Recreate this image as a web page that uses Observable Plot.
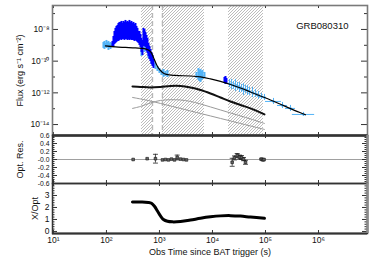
<!DOCTYPE html>
<html><head><meta charset="utf-8">
<script src="https://cdn.jsdelivr.net/npm/d3@7"></script>
<script src="https://cdn.jsdelivr.net/npm/@observablehq/plot@0.6"></script>
<style>
body{margin:0;background:#fff;}
#wrap{position:relative;width:374px;height:262px;overflow:hidden;background:#fff;}
#wrap > svg{position:absolute;left:0;top:0;}
</style></head><body><div id="wrap"></div>
<script>
// ---------- DATA ----------
// dark blue (BAT/XRT WT) flare band: time (s), flux upper / lower (erg s^-1 cm^-2)
const wtTime = [129.8,135.6,141.6,147.8,154.4,161.3,168.4,175.9,183.7,191.9,200.4,209.3,218.6,228.3,238.5,249.0,260.1,271.6,283.7,296.3,309.5,323.2,337.6,352.6,368.3,384.6,401.7,419.6,438.2,457.7,478.0,499.2,521.3,544.5,568.6,593.9,620.2,647.8,676.5,706.5,737.9,770.6,16840,17590,18370];
const wtHi = [1.75e-9,3.61e-9,7.48e-9,1.16e-8,1.55e-8,1.79e-8,2.39e-8,2.77e-8,2.77e-8,3.20e-8,2.39e-8,3.20e-8,2.77e-8,3.70e-8,2.77e-8,3.20e-8,2.77e-8,3.70e-8,2.77e-8,3.20e-8,2.39e-8,2.77e-8,2.07e-8,2.39e-8,1.55e-8,1.16e-8,7.48e-9,7.48e-9,4.84e-9,2.70e-9,2.02e-9,1.16e-8,1.00e-8,6.47e-9,4.18e-9,2.70e-9,1.31e-9,8.46e-10,5.47e-10,3.54e-10,2.29e-10,1.28e-10,9.37e-12,1.08e-11,8.11e-12];
const wtLo = [7.32e-10,8.46e-10,1.13e-9,1.31e-9,1.51e-9,1.75e-9,1.75e-9,2.02e-9,2.34e-9,2.02e-9,2.34e-9,2.34e-9,2.02e-9,2.34e-9,2.34e-9,2.02e-9,2.34e-9,2.02e-9,2.34e-9,2.02e-9,2.02e-9,2.02e-9,1.75e-9,2.02e-9,1.75e-9,1.51e-9,1.31e-9,9.79e-10,7.32e-10,3.54e-10,2.29e-10,8.46e-10,8.46e-10,7.32e-10,4.09e-10,3.06e-10,1.98e-10,1.28e-10,9.57e-11,6.19e-11,4.63e-11,3.46e-11,3.92e-12,3.39e-12,3.92e-12];

// light blue (XRT) band points: time, flux upper / lower
const pcTime = [87.8,91.7,95.7,100,104.4,109.1,113.9,119.0,124.3, 457.7,521.3,620.2,706.5,770.6,840.4,917.2,1000,1091,1190,1298,1416, 4991,5443,5685,5937,6200,6477,7064];
const pcHi = [1.51e-9,1.75e-9,1.31e-9,2.02e-9,1.51e-9,1.75e-9,1.31e-9,1.51e-9,1.31e-9, 6.33e-10,1.13e-9,3.54e-10,1.71e-10,1.28e-10,7.16e-11,4.63e-11,3.46e-11,2.59e-11,2.99e-11,2.24e-11,2.59e-11, 1.94e-11,3.46e-11,2.59e-11,2.99e-11,2.24e-11,2.59e-11,1.94e-11];
const pcLo = [6.33e-10,5.47e-10,7.32e-10,6.33e-10,7.32e-10,4.73e-10,6.33e-10,5.47e-10,7.32e-10, 1.98e-10,3.54e-10,1.48e-10,6.19e-11,4.63e-11,2.99e-11,2.24e-11,1.67e-11,1.25e-11,9.37e-12,1.08e-11,9.37e-12, 8.11e-12,6.05e-12,5.24e-12,4.53e-12,6.05e-12,7.00e-12,8.11e-12];

// late light blue points with errors (errors in dex)
const lateTime = [20930,22830,24900,27160,29630,32320,35260,38450,41940,45750,49910,56840,64760,73770,84040,95740,141600,209300,296300,521200];
const lateFlux = [3.92e-12,3.39e-12,2.93e-12,2.93e-12,2.54e-12,2.19e-12,1.90e-12,1.64e-12,1.64e-12,1.42e-12,1.23e-12,1.06e-12,9.17e-13,6.86e-13,5.93e-13,5.13e-13,2.87e-13,1.60e-13,1.04e-13,4.34e-14];
const lateFluxErr = [0.25,0.32,0.25,0.38,0.25,0.32,0.25,0.38,0.25,0.32,0.25,0.32,0.25,0.25,0.19,0.19,0.19,0.19,0.19,0.13];
const lateTimeErr = [0.028,0.028,0.028,0.028,0.028,0.028,0.028,0.028,0.028,0.028,0.028,0.038,0.038,0.038,0.038,0.038,0.15,0.094,0.094,0.21];

// X-ray model (black, upper)
const xModelTime = [95.7,147.8,228.3,352.6,544.5,676.5,770.6,877.9,1000,1139,1356,2004,3845,5937,9168,14160,21860,33760,52120,80450,124200,191900,296300,457500,568400];
const xModelFlux = [9.10e-10,7.87e-10,7.31e-10,6.81e-10,5.89e-10,4.09e-10,1.71e-10,6.19e-11,2.99e-11,1.94e-11,1.45e-11,1.25e-11,1.16e-11,1.01e-11,7.53e-12,5.24e-12,3.39e-12,2.04e-12,1.14e-12,6.37e-13,3.56e-13,1.91e-13,1.01e-13,5.55e-14,4.15e-14];

// optical model (black, lower) and its two components (gray)
const optTime = [309.5,438.2,676.5,1044,1612,2490,3845,5937,9168,14160,21860,33760,52120,95740];
const optFlux = [2.54e-12,2.36e-12,2.19e-12,2.36e-12,2.72e-12,2.72e-12,2.19e-12,1.52e-12,9.17e-13,5.13e-13,2.87e-13,1.72e-13,1.04e-13,4.34e-14];
const compAFlux = [1.04e-13,1.39e-13,2.31e-13,3.32e-13,3.67e-13,3.56e-13,2.87e-13,2.00e-13,1.29e-13,8.34e-14,5.39e-14,3.49e-14,2.26e-14,1.17e-14];
const compBFlux = [5.13e-13,4.12e-13,3.08e-13,2.14e-13,1.49e-13,1.04e-13,7.21e-14,5.01e-14,3.49e-14,2.43e-14,1.69e-14,1.17e-14,8.16e-15,4.91e-15];

// hatched intervals and dashed lines (s)
const hatchStart = [457.7, 1139, 20040];
const hatchEnd = [737.9, 7064, 91670];
const dashTime = [737.9, 1139];

// optical residuals
const resTime = [319,586,840,1139,1298,1478,1684,1919,2158,2490,2837,3232,23530,26010,29240,32310,35250,38450,41950,84040,89690,93690];
const resValue = [0.00,0.02,0.02,-0.01,0.00,-0.01,0.01,-0.01,0.05,0.01,0.00,-0.01,-0.07,0.04,0.10,0.06,0.05,0.01,-0.07,0.01,-0.01,0.00];
const resError = [0.01,0.01,0.11,0.01,0.01,0.01,0.01,0.01,0.06,0.01,0.01,0.01,0.10,0.05,0.05,0.05,0.05,0.04,0.05,0.02,0.02,0.01];

// X/Opt ratio
const ratioTime = [309.5,438.2,620.2,706.5,804.8,917.2,1044,1190,1416,1759,2490,3845,5937,9168,14160,21860,33760,52120,95740];
const ratioValue = [2.45,2.45,2.42,2.35,2.10,1.70,1.30,1.00,0.85,0.80,0.83,0.95,1.10,1.22,1.30,1.32,1.28,1.20,1.10];

// ticks and labels
const xTicks = [10,100,1e3,1e4,1e5,1e6];
const xTickLabels = ["10¹","10²","10³","10⁴","10⁵","10⁶"];
const fluxMajor = [1e-14,1e-12,1e-10,1e-8];
const fluxLabels = ["10⁻¹⁴","10⁻¹²","10⁻¹⁰","10⁻⁸"];
const fluxMinor = [1e-13,1e-11,1e-9,1e-7];
const resMajor = [0.6,0.4,0.2,0,-0.2,-0.4,-0.6];
const resLabels = ["0.6","0.4","0.2","-0.0","-0.2","-0.4","-0.6"];
const resMinor = [-0.55,-0.5,-0.45,-0.35,-0.3,-0.25,-0.15,-0.1,-0.05,0.05,0.1,0.15,0.25,0.3,0.35,0.45,0.5,0.55];
const ratioMajor = [0,1,2,3];
const ratioLabels = ["0","1","2","3"];
const ratioMinor = [0.2,0.4,0.6,0.8,1.2,1.4,1.6,1.8,2.2,2.4,2.6,2.8,3.2,3.4,3.6,3.8];

const grbName = "GRB080310";
const fluxTitle = "Flux (erg s⁻¹ cm⁻²)";
const resTitle = "Opt. Res.";
const ratioTitle = "X/Opt";
const timeTitle = "Obs Time since BAT trigger (s)";

// ---------- BUILD ----------
const W = 374, H = 262, ML = 52, MR = 7;
const PW = W - ML - MR;
const xDomain = [9.6, 8.4e6];
const fluxDomain = [2.04e-15, 3.24e-7];
const resDomain = [-0.6, 0.6];
const ratioDomain = [-0.17, 4.0];
const panels = [[5,135],[135,183],[183,233]];
const LIGHT = "#52b3f7", DARK = "#0000ff", FONT = "Liberation Sans, Arial, sans-serif";

const wt = wtTime.map((t,i)=>({t, hi: wtHi[i], lo: wtLo[i]}));
const pc = pcTime.map((t,i)=>({t, hi: pcHi[i], lo: pcLo[i]}));
const late = lateTime.map((t,i)=>({t, f: lateFlux[i], fhi: lateFlux[i]*10**lateFluxErr[i], flo: lateFlux[i]/10**lateFluxErr[i], thi: t*10**lateTimeErr[i], tlo: t/10**lateTimeErr[i]}));
const xModel = xModelTime.map((t,i)=>({t, f: xModelFlux[i]}));
const opt = optTime.map((t,i)=>({t, f: optFlux[i], a: compAFlux[i], b: compBFlux[i]}));
const hatch = hatchStart.map((s,i)=>({t1: s, t2: hatchEnd[i]}));
const res = resTime.map((t,i)=>({t, v: resValue[i], lo: resValue[i]-resError[i], hi: resValue[i]+resError[i], big: resError[i] > 0.015}));
const ratio = ratioTime.map((t,i)=>({t, v: ratioValue[i]}));

const capSymbol = {draw(ctx, size){ const w = Math.sqrt(size); ctx.moveTo(-w,0); ctx.lineTo(w,0); }};

function yTickMarks(vals, len, stroke="#333") {
  return [
    Plot.tickY(vals, {y: d=>d, insetRight: PW - len, stroke, strokeWidth: 1}),
    Plot.tickY(vals, {y: d=>d, insetLeft: PW - len, stroke, strokeWidth: 1})
  ];
}
function xTickMarks(ph, len, stroke="#333") {
  return [
    Plot.tickX(xTicks, {x: d=>d, insetBottom: ph - len, stroke, strokeWidth: 1}),
    Plot.tickX(xTicks, {x: d=>d, insetTop: ph - len, stroke, strokeWidth: 1})
  ];
}
function base(k) {
  return {width: W, height: H, marginLeft: ML, marginRight: MR, marginTop: panels[k][0], marginBottom: H - panels[k][1],
    style: {background: "transparent", overflow: "visible", fontFamily: FONT, fontSize: "8.5px", color: "#111"}};
}
const wrap = document.getElementById("wrap");

// Panel 1 : light curves
const p1 = Plot.plot({
  ...base(0),
  x: {type: "log", domain: xDomain, axis: null},
  y: {type: "log", domain: fluxDomain, axis: null},
  marks: [
    Plot.rect(hatch, {x1: "t1", x2: "t2", fill: "url(#hatch)"}),
    Plot.ruleX(dashTime, {stroke: "#b8b8b8", strokeWidth: 1.4, strokeDasharray: "5,3"}),
    Plot.ruleX(pc, {x: "t", y1: "lo", y2: "hi", stroke: LIGHT, strokeWidth: 2}),
    Plot.ruleX(late, {x: "t", y1: "flo", y2: "fhi", stroke: LIGHT, strokeWidth: 1}),
    Plot.ruleY(late, {y: "f", x1: "tlo", x2: "thi", stroke: LIGHT, strokeWidth: 1}),
    Plot.dot(late, {x: "t", y: "f", r: 1.2, fill: LIGHT}),
    Plot.ruleX(wt, {x: "t", y1: "lo", y2: "hi", stroke: DARK, strokeWidth: 2}),
    Plot.line(opt, {x: "t", y: "a", stroke: "#9a9a9a", strokeWidth: 1, curve: "catmull-rom"}),
    Plot.line(opt, {x: "t", y: "b", stroke: "#9a9a9a", strokeWidth: 1, curve: "catmull-rom"}),
    Plot.line(opt, {x: "t", y: "f", stroke: "#111", strokeWidth: 2, curve: "catmull-rom"}),
    Plot.line(xModel, {x: "t", y: "f", stroke: "#000", strokeWidth: 1.2, curve: "catmull-rom"}),
    ...yTickMarks(fluxMajor, 6),
    ...yTickMarks(fluxMinor, 3),
    ...xTickMarks(130, 3),
    Plot.frame({stroke: "#7a7a7a", strokeWidth: 1.6}),
    Plot.text(fluxMajor, {y: d=>d, text: (d,i)=>fluxLabels[i], frameAnchor: "left", textAnchor: "end", lineAnchor: "middle", dx: -3, fontSize: 8.5}),
    Plot.text([fluxTitle], {frameAnchor: "left", rotate: -90, dx: -32, textAnchor: "middle", lineAnchor: "middle", fontSize: 9}),
    Plot.text([grbName], {frameAnchor: "top-right", dx: -19, dy: 20, textAnchor: "end", lineAnchor: "middle", fontSize: 9.5, ariaLabel: "grb"})
  ]
});
const defs = d3.select(p1).insert("defs", ":first-child");
const pat = defs.append("pattern").attr("id", "hatch").attr("patternUnits", "userSpaceOnUse").attr("width", 3).attr("height", 3);
pat.append("rect").attr("width", 3).attr("height", 3).attr("fill", "#fff");
pat.append("path").attr("d", "M-1,1 l2,-2 M0,3 l3,-3 M2,4 l2,-2").attr("stroke", "#8f8f8f").attr("stroke-width", 0.6);
d3.select(p1).selectAll('g[aria-label="grb"] text').style("letter-spacing", "0.9px");
wrap.appendChild(p1);

// Panel 2 : optical residuals
const p2 = Plot.plot({
  ...base(1),
  x: {type: "log", domain: xDomain, axis: null},
  y: {domain: resDomain, axis: null},
  marks: [
    Plot.ruleY([0], {stroke: "#a0a0a0", strokeWidth: 1}),
    Plot.ruleX(res.filter(d=>d.big), {x: "t", y1: "lo", y2: "hi", stroke: "#222", strokeWidth: 0.8}),
    Plot.dot(res.filter(d=>d.big), {x: "t", y: "lo", symbol: capSymbol, r: 1.4, stroke: "#222", strokeWidth: 0.8}),
    Plot.dot(res.filter(d=>d.big), {x: "t", y: "hi", symbol: capSymbol, r: 1.4, stroke: "#222", strokeWidth: 0.8}),
    Plot.dot(res, {x: "t", y: "v", symbol: "square", r: 1.5, fill: "#666", stroke: "#111", strokeWidth: 0.6}),
    ...yTickMarks(resMajor, 5),
    ...yTickMarks(resMinor, 2.5),
    ...xTickMarks(48, 3),
    Plot.frame({stroke: "#333", strokeWidth: 1.5}),
    Plot.ruleY([resDomain[1]], {stroke: "#333", strokeWidth: 2.5}),
    Plot.ruleX([xDomain[1]], {stroke: "#8a8a8a", strokeWidth: 2.5}),
    Plot.text(resMajor, {y: d=>d, text: (d,i)=>resLabels[i], frameAnchor: "left", textAnchor: "end", lineAnchor: "middle", dx: -3, fontSize: 6.8}),
    Plot.text([resTitle], {frameAnchor: "left", rotate: -90, dx: -32, textAnchor: "middle", lineAnchor: "middle", fontSize: 9})
  ]
});
wrap.appendChild(p2);

// Panel 3 : X/Opt ratio
const p3 = Plot.plot({
  ...base(2),
  x: {type: "log", domain: xDomain, axis: null},
  y: {domain: ratioDomain, axis: null},
  marks: [
    Plot.line(ratio, {x: "t", y: "v", stroke: "#000", strokeWidth: 3, curve: "catmull-rom"}),
    ...yTickMarks(ratioMajor, 5),
    ...yTickMarks(ratioMinor, 2.5),
    ...xTickMarks(50, 3),
    Plot.frame({stroke: "#333", strokeWidth: 1.5}),
    Plot.ruleY([ratioDomain[0]], {stroke: "#333", strokeWidth: 2}),
    Plot.ruleX([xDomain[1]], {stroke: "#8a8a8a", strokeWidth: 2.5}),
    Plot.text(ratioMajor, {y: d=>d, text: (d,i)=>ratioLabels[i], frameAnchor: "left", textAnchor: "end", lineAnchor: "middle", dx: -3, fontSize: 8.5}),
    Plot.text(xTicks, {x: d=>d, text: (d,i)=>xTickLabels[i], frameAnchor: "bottom", textAnchor: "middle", lineAnchor: "top", dy: 3, fontSize: 8.5}),
    Plot.text([ratioTitle], {frameAnchor: "left", rotate: -90, dx: -17, textAnchor: "middle", lineAnchor: "middle", fontSize: 9}),
    Plot.text([timeTitle], {frameAnchor: "bottom", dy: 19, textAnchor: "middle", lineAnchor: "middle", fontSize: 9, ariaLabel: "xtitle"})
  ]
});
d3.select(p3).selectAll('g[aria-label="xtitle"] text').style("letter-spacing", "1px");
wrap.appendChild(p3);
</script></body></html>
